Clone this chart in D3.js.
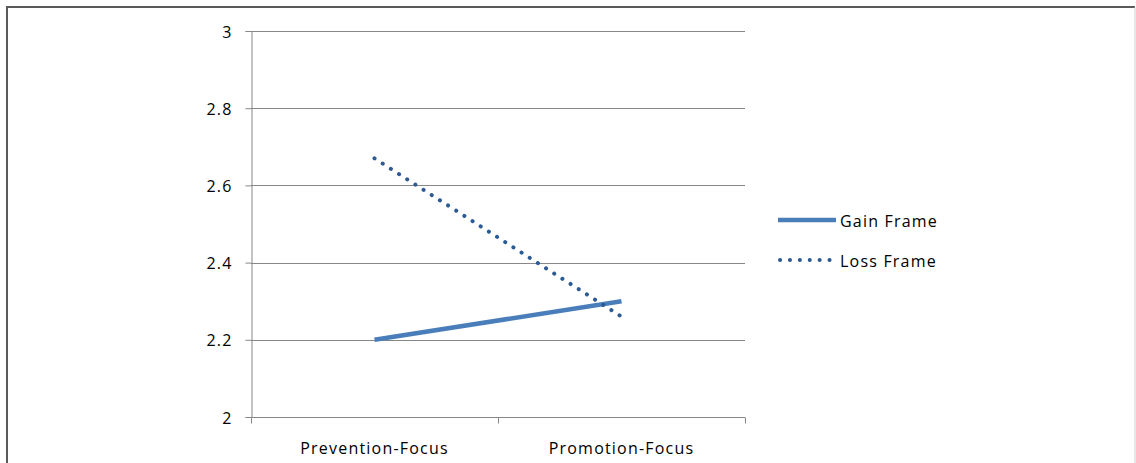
<!DOCTYPE html>
<html>
<head>
<meta charset="utf-8">
<script src="https://cdn.jsdelivr.net/npm/d3@7"></script>
<style>
  html, body { margin: 0; padding: 0; background: #fff; }
  svg { display: block; }
  text.lbl { font-family: "Open Sans", "Noto Sans", sans-serif; font-size: 16px; letter-spacing: 1.2px; fill: #000; }
</style>
</head>
<body>
<svg id="chart" width="1136" height="463"></svg>
<script>
// Focus condition on the x axis, framing condition as the two series
const categories = ["Prevention-Focus", "Promotion-Focus"];
const gainFrame = [2.2, 2.3];
const lossFrame = [2.67, 2.26];
const seriesNames = ["Gain Frame", "Loss Frame"];
const yTicks = [2, 2.2, 2.4, 2.6, 2.8, 3];
const yTickLabels = ["2", "2.2", "2.4", "2.6", "2.8", "3"];

const svg = d3.select("#chart");
const W = 1136, H = 463;

// outer frame
svg.append("path")
  .attr("d", `M7,${H} V7 H${W - 1}`)
  .attr("fill", "none").attr("stroke", "#5a5a5a").attr("stroke-width", 2);
svg.append("line")
  .attr("x1", W - 1).attr("x2", W - 1).attr("y1", 7).attr("y2", H)
  .attr("stroke", "#d0d0d0").attr("stroke-width", 1);

const plot = { left: 251, right: 745, top: 31, bottom: 417 };

const x = d3.scaleBand().domain(categories).range([plot.left, plot.right]);
const y = d3.scaleLinear().domain([2, 3]).range([plot.bottom, plot.top]);

// horizontal gridlines
svg.append("g").selectAll("line").data(yTicks.slice(1)).join("line")
  .attr("x1", plot.left).attr("x2", plot.right)
  .attr("y1", d => Math.round(y(d)) + 0.5).attr("y2", d => Math.round(y(d)) + 0.5)
  .attr("stroke", "#878787").attr("stroke-width", 1);

// y axis
const yAxis = svg.append("g")
  .attr("transform", `translate(${plot.left + 0.5},0)`)
  .call(d3.axisLeft(y).tickValues(yTicks).tickFormat((d, i) => yTickLabels[i]).tickSize(6).tickPadding(13));
yAxis.attr("font-size", null).attr("font-family", null);
yAxis.select(".domain").attr("stroke", "#878787");
yAxis.selectAll(".tick line").attr("stroke", "#878787");
yAxis.selectAll(".tick text").attr("class", "lbl").attr("dy", "0.38em");

// x axis
const xAxis = svg.append("g")
  .attr("transform", `translate(0,${plot.bottom + 0.5})`)
  .call(d3.axisBottom(x).tickSize(0).tickPadding(21));
xAxis.attr("font-size", null).attr("font-family", null);
xAxis.select(".domain").attr("stroke", "#878787").attr("d", `M${plot.left},0H${plot.right}`);
xAxis.selectAll(".tick line").remove();
xAxis.selectAll(".tick text").attr("class", "lbl").attr("y", 36).attr("dy", null);
const xEdges = [plot.left, plot.left + x.bandwidth(), plot.right];
xAxis.selectAll(".edge").data(xEdges).join("line")
  .attr("x1", d => Math.round(d) + 0.5).attr("x2", d => Math.round(d) + 0.5)
  .attr("y1", 0).attr("y2", 6).attr("stroke", "#878787");

const cx = c => x(c) + x.bandwidth() / 2;
const line = d3.line().x(d => cx(d.c)).y(d => y(d.v));

const gainPts = categories.map((c, i) => ({ c, v: gainFrame[i] }));
const lossPts = categories.map((c, i) => ({ c, v: lossFrame[i] }));

svg.append("path").datum(gainPts).attr("d", line)
  .attr("fill", "none").attr("stroke", "#4a7ebb").attr("stroke-width", 4.5);

svg.append("path").datum(lossPts).attr("d", line)
  .attr("fill", "none").attr("stroke", "#2c5a93").attr("stroke-width", 4)
  .attr("stroke-linecap", "round").attr("stroke-dasharray", "0.1,9.6");

// legend
const legend = svg.append("g");
const legendRows = [
  { name: seriesNames[0], y: 220, color: "#4a7ebb", dash: null, cap: "butt", w: 4.5 },
  { name: seriesNames[1], y: 260, color: "#2c5a93", dash: "0.1,9.8", cap: "round", w: 4 }
];
legendRows.forEach(r => {
  legend.append("line")
    .attr("x1", r.dash ? 780 : 778).attr("x2", 836)
    .attr("y1", r.y).attr("y2", r.y)
    .attr("stroke", r.color).attr("stroke-width", r.w)
    .attr("stroke-linecap", r.cap)
    .attr("stroke-dasharray", r.dash);
  legend.append("text")
    .attr("class", "lbl")
    .attr("x", 840).attr("y", r.y + 7)
    .text(r.name);
});
</script>
</body>
</html>
